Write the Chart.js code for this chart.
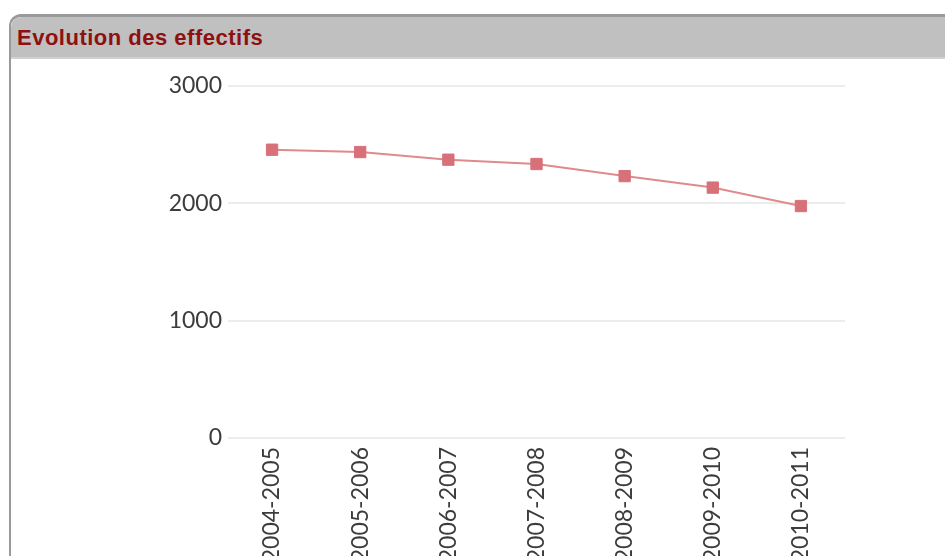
<!DOCTYPE html>
<html>
<head>
<meta charset="utf-8">
<script src="https://cdn.jsdelivr.net/npm/chart.js@4/dist/chart.umd.min.js"></script>
<style>
  html, body { margin: 0; padding: 0; background: #fff; width: 945px; height: 556px; overflow: hidden; }
  #panel { position: absolute; left: 9px; top: 14px; width: 1000px; height: 600px;
           border-left: 2px solid #9a9a9a; border-top: 3px solid #9a9a9a; border-top-left-radius: 12px; background: #fff; }
  #header { position: absolute; left: 0; top: 0; right: 0; height: 40px; background: #c0c0c0;
            border-top-left-radius: 10px; border-bottom: 2px solid #d0d0d0; }
  #title { position: absolute; left: 6px; top: 8px; font-family: "Liberation Sans", Arial, sans-serif;
           font-weight: bold; font-size: 22px; letter-spacing: 0.5px; color: #8e1010; white-space: nowrap; }
  #wrap { position: absolute; left: 0; top: 0; width: 945px; height: 556px; }
</style>
</head>
<body>
<div id="panel"><div id="header"><div id="title">Evolution des effectifs</div></div></div>
<div id="wrap"><canvas id="c" width="945" height="556"></canvas></div>
<script>
const categories = ["2004-2005", "2005-2006", "2006-2007", "2007-2008", "2008-2009", "2009-2010", "2010-2011"];
const effectifs = [2457, 2437, 2372, 2335, 2232, 2134, 1977];
const yTicks = [0, 1000, 2000, 3000];

new Chart(document.getElementById('c'), {
  type: 'line',
  data: {
    labels: categories,
    datasets: [{
      label: 'Effectifs',
      data: effectifs,
      borderColor: '#e08a8c',
      backgroundColor: '#d8707a',
      borderWidth: 2,
      tension: 0,
      pointStyle: 'rect',
      pointRadius: 8,
      pointBorderWidth: 1,
      pointBorderColor: '#d8707a',
      pointBackgroundColor: '#d8707a'
    }]
  },
  options: {
    responsive: false,
    animation: false,
    layout: { padding: { left: 158, right: 100, top: 86, bottom: 0 } },
    plugins: { legend: { display: false }, tooltip: { enabled: false } },
    scales: {
      x: {
        offset: true,
        grid: { display: false, drawTicks: false },
        border: { display: false },
        ticks: {
          autoSkip: false, minRotation: 90, maxRotation: 90, padding: 9,
          color: '#3c3c3c', font: { family: 'Lato', size: 23 }
        },
        afterFit: (s) => { s.height = 118; }
      },
      y: {
        min: 0, max: 3000,
        afterBuildTicks: (s) => { s.ticks = yTicks.map(v => ({ value: v })); },
        grid: { color: '#ececec', lineWidth: 2, drawTicks: false },
        border: { display: false },
        ticks: {
          padding: 6, color: '#3c3c3c', font: { family: 'Lato', size: 23 },
          callback: (v) => String(v)
        },
        afterFit: (s) => { s.width = 70; }
      }
    }
  }
});
</script>
</body>
</html>
